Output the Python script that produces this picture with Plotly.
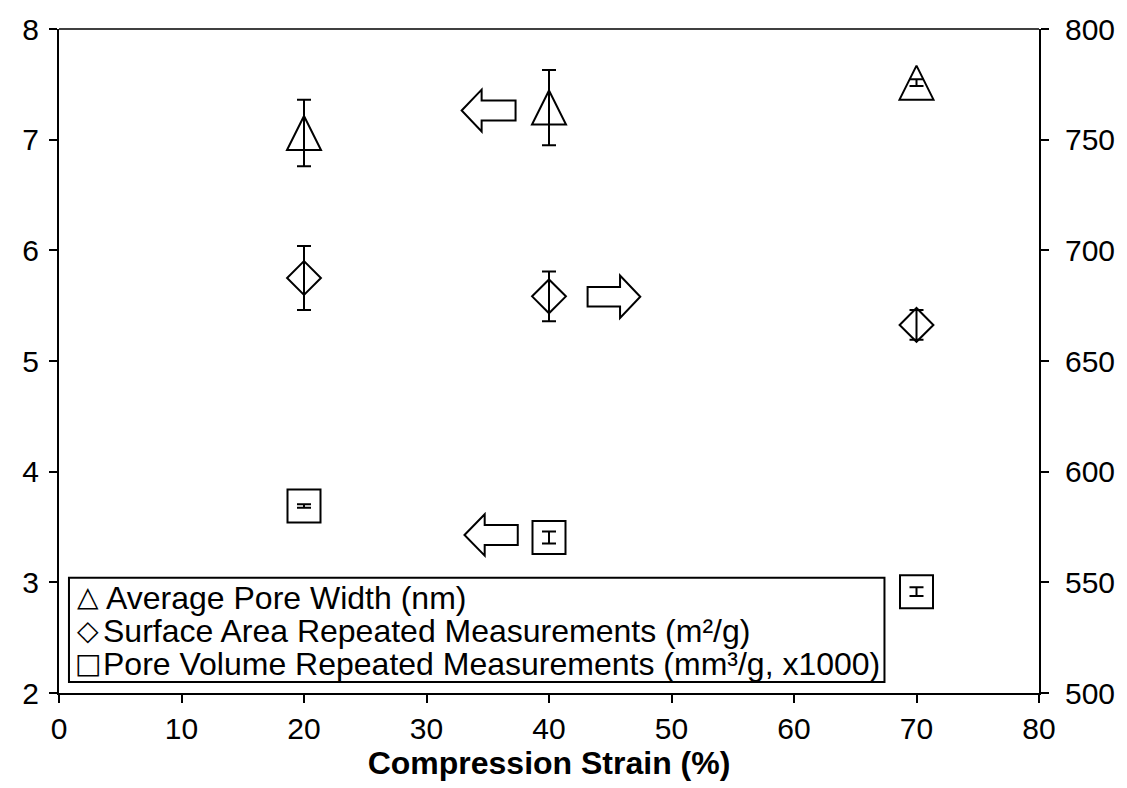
import plotly.graph_objects as go

# Compression strain levels (%)
strain = [20, 40, 70]

# Average pore width (nm), left axis
pore_width = [7.06, 7.29, 7.515]
pore_width_err = [0.30, 0.34, 0.03]

# Surface area (m²/g), right axis
surface_area = [687.5, 679.2, 666.3]
surface_area_err = [14.5, 11.2, 6.7]

# Pore volume (mm³/g, x1000), left axis
pore_volume = [3.69, 3.405, 2.916]
pore_volume_err = [0.015, 0.055, 0.04]

series_labels = [
    "Average Pore Width (nm)",
    "Surface Area Repeated Measurements (m²/g)",
    "Pore Volume Repeated Measurements (mm³/g, x1000)",
]
series_glyphs = ["△", "◇", "□"]

x_ticks = [0, 10, 20, 30, 40, 50, 60, 70, 80]
y_left_ticks = [2, 3, 4, 5, 6, 7, 8]
y_right_ticks = [500, 550, 600, 650, 700, 750, 800]

FONT = "Liberation Sans, Arial, sans-serif"
BLACK = "#000000"

W, H = 1127, 788
M_L, M_R, M_T, M_B = 59, 85, 25, 95


def px_x(p):
    """pixel column -> paper x"""
    return (p - M_L) / (W - M_L - M_R)


def px_y(p):
    """pixel row -> paper y"""
    return (H - M_B - p) / (H - M_T - M_B)


def err(vals):
    return dict(type="data", array=vals, visible=True, color=BLACK,
                thickness=2, width=7)


fig = go.Figure()

# tall open triangle: apex-anchored arrow symbol, pushed up by half its height
fig.add_trace(go.Scatter(
    x=strain, y=pore_width, mode="markers", name=series_labels[0],
    marker=dict(symbol="arrow-down-open", angle=180, standoff=17, size=34,
                color=BLACK, line=dict(width=2, color=BLACK)),
    error_y=err(pore_width_err),
))

fig.add_trace(go.Scatter(
    x=strain, y=surface_area, mode="markers", yaxis="y2",
    name=series_labels[1],
    marker=dict(symbol="diamond-open", size=26, color=BLACK,
                line=dict(width=2, color=BLACK)),
    error_y=err(surface_area_err),
))

fig.add_trace(go.Scatter(
    x=strain, y=pore_volume, mode="markers", name=series_labels[2],
    marker=dict(symbol="square-open", size=33, color=BLACK,
                line=dict(width=2, color=BLACK)),
    error_y=err(pore_volume_err),
))


# Block arrows pointing to the axis each series is read against
def block_arrow(tip_x, head_x, tail_x, yc, head_h, shaft_h):
    pts = [(tip_x, yc), (head_x, yc + head_h), (head_x, yc + shaft_h),
           (tail_x, yc + shaft_h), (tail_x, yc - shaft_h),
           (head_x, yc - shaft_h), (head_x, yc - head_h)]
    return "M " + " L ".join(f"{a},{b}" for a, b in pts) + " Z"


arrow_paths = [
    block_arrow(32.87, 34.5, 37.27, 7.263, 0.189, 0.09),
    block_arrow(47.45, 45.8, 43.15, 5.581, 0.192, 0.088),
    block_arrow(33.1, 34.75, 37.45, 3.428, 0.187, 0.091),
]
shapes = [
    dict(type="path", xref="x", yref="y", path=p,
         line=dict(color=BLACK, width=2), fillcolor="rgba(0,0,0,0)")
    for p in arrow_paths
]
# thin top frame line
shapes.append(dict(type="line", xref="paper", yref="paper", x0=0, x1=1,
                   y0=1, y1=1, line=dict(color=BLACK, width=1.5)))
# key box
shapes.append(dict(type="rect", xref="paper", yref="paper",
                   x0=px_x(69), x1=px_x(887), y0=px_y(682), y1=px_y(577),
                   line=dict(color=BLACK, width=2), fillcolor="white",
                   layer="above"))

# key text
annotations = []
row_mid = [597, 631, 664]
text_left = [104, 101, 101]
for label, glyph, ym, xl in zip(series_labels, series_glyphs, row_mid,
                                text_left):
    annotations.append(dict(
        xref="paper", yref="paper", x=px_x(88), y=px_y(ym - 1),
        xanchor="center", yanchor="middle", showarrow=False, text=glyph,
        font=dict(family="DejaVu Sans", size=28, color=BLACK)))
    annotations.append(dict(
        xref="paper", yref="paper", x=px_x(xl), y=px_y(ym),
        xanchor="left", yanchor="middle", showarrow=False, text=label,
        font=dict(family=FONT, size=32, color=BLACK)))

fig.update_layout(
    width=W, height=H,
    margin=dict(l=M_L, r=M_R, t=M_T, b=M_B),
    paper_bgcolor="white", plot_bgcolor="white",
    font=dict(family=FONT, size=30, color=BLACK),
    showlegend=False,
    xaxis=dict(
        range=[0, 80], tickvals=x_ticks, ticks="outside", ticklen=8,
        tickwidth=2, tickcolor=BLACK, showline=True, linewidth=2,
        linecolor=BLACK, showgrid=False, zeroline=False,
        tickfont=dict(size=30),
        title=dict(text="<b>Compression Strain (%)</b>",
                   font=dict(size=32), standoff=5),
    ),
    yaxis=dict(
        range=[2, 8], tickvals=y_left_ticks, ticks="outside", ticklen=8,
        tickwidth=2, tickcolor=BLACK, showline=True, linewidth=2,
        linecolor=BLACK, showgrid=False, zeroline=False,
        tickfont=dict(size=30), ticklabelstandoff=4,
    ),
    yaxis2=dict(
        range=[500, 800], tickvals=y_right_ticks, overlaying="y",
        side="right", ticks="outside", ticklen=8, tickwidth=2,
        tickcolor=BLACK, showline=True, linewidth=2, linecolor=BLACK,
        showgrid=False, zeroline=False, tickfont=dict(size=30),
        ticklabelstandoff=10,
    ),
    shapes=shapes,
    annotations=annotations,
)

fig.write_html("out.html")
